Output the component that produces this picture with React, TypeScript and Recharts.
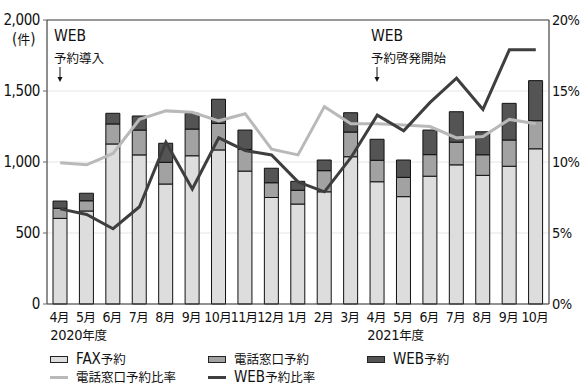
import React from "react";
import {
  Bar,
  CartesianGrid,
  ComposedChart,
  Line,
  ReferenceLine,
  XAxis,
  YAxis,
} from "recharts";

// monthly reservations by channel, FY2020 April .. FY2021 October
const months = ["4月", "5月", "6月", "7月", "8月", "9月", "10月", "11月", "12月", "1月", "2月", "3月", "4月", "5月", "6月", "7月", "8月", "9月", "10月"];
const faxCounts = [603, 655, 1127, 1050, 845, 1044, 1085, 936, 750, 704, 790, 1037, 861, 756, 900, 980, 906, 970, 1093];
const phoneCounts = [71, 72, 141, 175, 153, 188, 187, 153, 104, 97, 149, 174, 151, 136, 152, 160, 145, 185, 198];
const webCounts = [51, 53, 75, 99, 134, 111, 170, 136, 102, 63, 75, 136, 148, 122, 173, 214, 162, 258, 282];
const phoneRate = [9.95, 9.8, 10.6, 13.0, 13.6, 13.5, 12.9, 13.4, 10.9, 10.5, 13.9, 12.7, 12.7, 12.6, 12.5, 11.7, 11.8, 13.0, 12.7];
const webRate = [6.7, 6.3, 5.3, 6.85, 11.4, 8.1, 11.7, 10.8, 10.5, 8.6, 7.9, 10.3, 13.3, 12.2, 14.2, 15.9, 13.7, 17.9, 17.9];
const fiscalYears = [
  { index: 0, label: "2020年度" },
  { index: 12, label: "2021年度" },
];
const countTicks = [0, 500, 1000, 1500, 2000];
const rateTicks = [0, 5, 10, 15, 20];
const edgeTicks = [1, 2, 3, 4, 5, 6, 7, 8, 9, 10, 11, 12, 13, 14, 15, 16, 17, 18];

const rows = months.map((m, i) => ({
  slot: i,
  fax: faxCounts[i],
  phone: phoneCounts[i],
  web: webCounts[i],
  phoneRate: phoneRate[i],
  webRate: webRate[i],
}));

const LAT = "'Liberation Sans Narrow', 'Arial Narrow', 'DejaVu Sans Condensed', sans-serif";
const JP = "'Noto Sans CJK JP', sans-serif";
const CJK = /([\u3000-\u30ff\u3400-\u9fff\uff00-\uffef]+)/;

const FAX_FILL = "#dcdddc";
const PHONE_FILL = "#a2a2a2";
const WEB_FILL = "#545454";
const PHONE_LINE = "#b9b9b9";
const WEB_LINE = "#3e3e3e";

function split(text: string) {
  return text.split(CJK).filter(Boolean).map((s) => ({ s, cjk: CJK.test(s) }));
}

function SvgText({ text, latSize = 15, jpSize = 12.5 }: { text: string; latSize?: number; jpSize?: number }) {
  return (
    <>
      {split(text).map((r, i) => (
        <tspan key={i} fontFamily={r.cjk ? JP : LAT} fontSize={r.cjk ? jpSize : latSize}>
          {r.s}
        </tspan>
      ))}
    </>
  );
}

function HtmlText({ text, latSize = 15, jpSize = 12.5 }: { text: string; latSize?: number; jpSize?: number }) {
  return (
    <>
      {split(text).map((r, i) => (
        <span key={i} style={{ fontFamily: r.cjk ? JP : LAT, fontSize: r.cjk ? jpSize : latSize }}>
          {r.s}
        </span>
      ))}
    </>
  );
}

function MonthTick(props: any) {
  const { x, y, payload } = props;
  const idx = Number(payload.value);
  const year = fiscalYears.find((f) => f.index === idx);
  return (
    <g>
      <text x={x - 1} y={y} dy={18} textAnchor="middle" fill="#111" letterSpacing={-0.6}>
        <SvgText text={months[idx]} latSize={14} jpSize={12.5} />
      </text>
      {year && (
        <text x={x - 10} y={y} dy={36} textAnchor="start" fill="#111" letterSpacing={-0.3}>
          <SvgText text={year.label} latSize={14.5} jpSize={12.5} />
        </text>
      )}
    </g>
  );
}

function Note({ left, lines }: { left: number; lines: string[] }) {
  return (
    <div style={{ position: "absolute", left, top: 25, color: "#111", lineHeight: "21px", whiteSpace: "nowrap" }}>
      {lines.map((l) => (
        <div key={l}>
          <HtmlText text={l} latSize={15.5} />
        </div>
      ))}
      <svg width={10} height={16} style={{ position: "absolute", left: 1, top: 42 }}>
        <line x1={5} y1={0} x2={5} y2={11} stroke="#111" strokeWidth={1} />
        <polygon points="2.5,10 7.5,10 5,15" fill="#111" />
      </svg>
    </div>
  );
}

function SwatchBox({ fill }: { fill: string }) {
  return (
    <span
      style={{
        display: "inline-block",
        width: 18,
        height: 7,
        boxSizing: "border-box",
        border: "1px solid #222",
        background: fill,
      }}
    />
  );
}

function SwatchLine({ stroke }: { stroke: string }) {
  return <span style={{ display: "inline-block", width: 18, height: 3, background: stroke }} />;
}

function LegendItem({ left, top, swatch, label }: { left: number; top: number; swatch: React.ReactNode; label: string }) {
  return (
    <div
      style={{
        position: "absolute",
        left,
        top,
        height: 16,
        lineHeight: "16px",
        display: "flex",
        alignItems: "center",
        color: "#111",
        whiteSpace: "nowrap",
      }}
    >
      <span style={{ width: 26, display: "flex", alignItems: "center" }}>{swatch}</span>
      <HtmlText text={label} latSize={15} jpSize={12.5} />
    </div>
  );
}

export default function App() {
  return (
    <div style={{ position: "absolute", left: 0, top: 0, width: 581, height: 386, background: "#fff", overflow: "hidden" }}>
      <ComposedChart
        width={581}
        height={386}
        data={rows}
        margin={{ top: 20, right: 0, bottom: 52, left: 7 }}
        barSize={14}
      >
        <CartesianGrid yAxisId="cnt" horizontal vertical={false} stroke="#e6e6e6" />
        <XAxis
          xAxisId="cat"
          dataKey="slot"
          type="category"
          interval={0}
          tickLine={false}
          tickSize={0}
          tickMargin={0}
          height={30}
          axisLine={{ stroke: "#333", strokeWidth: 1.2 }}
          tick={<MonthTick />}
        />
        <XAxis
          xAxisId="edge"
          type="number"
          domain={[0, 19]}
          allowDataOverflow
          ticks={edgeTicks}
          mirror
          tick={false}
          axisLine={false}
          tickSize={4}
          tickLine={{ stroke: "#333" }}
        />
        <YAxis
          yAxisId="cnt"
          width={40}
          domain={[0, 2000]}
          ticks={countTicks}
          tickSize={4}
          tickMargin={3}
          axisLine={{ stroke: "#444", strokeWidth: 1.2 }}
          tickLine={{ stroke: "#666" }}
          tick={{ fill: "#111", fontSize: 15, fontFamily: LAT, letterSpacing: -0.4 }}
          tickFormatter={(v: number) => v.toLocaleString("en-US")}
        />
        <YAxis
          yAxisId="pct"
          orientation="right"
          width={32}
          domain={[0, 20]}
          ticks={rateTicks}
          tickSize={0}
          tickMargin={3}
          tickLine={false}
          axisLine={{ stroke: "#444", strokeWidth: 1.2 }}
          tick={{ fill: "#111", fontSize: 14.5, fontFamily: LAT, textAnchor: "start", letterSpacing: -0.6 }}
          tickFormatter={(v: number) => `${v}%`}
        />
        <ReferenceLine yAxisId="cnt" xAxisId="cat" y={2000} stroke="#7a7a7a" strokeWidth={1.5} />
        <Bar xAxisId="cat" yAxisId="cnt" dataKey="fax" stackId="r" fill={FAX_FILL} stroke="#111" strokeWidth={1} isAnimationActive={false} />
        <Bar xAxisId="cat" yAxisId="cnt" dataKey="phone" stackId="r" fill={PHONE_FILL} stroke="#111" strokeWidth={1} isAnimationActive={false} />
        <Bar xAxisId="cat" yAxisId="cnt" dataKey="web" stackId="r" fill={WEB_FILL} stroke="#111" strokeWidth={1} isAnimationActive={false} />
        <Line xAxisId="cat" yAxisId="pct" dataKey="phoneRate" stroke={PHONE_LINE} strokeWidth={3} dot={false} isAnimationActive={false} />
        <Line xAxisId="cat" yAxisId="pct" dataKey="webRate" stroke={WEB_LINE} strokeWidth={3} dot={false} isAnimationActive={false} />
      </ComposedChart>

      <div style={{ position: "absolute", left: 12, top: 29, color: "#111" }}>
        <HtmlText text="(件)" latSize={15} jpSize={13} />
      </div>

      <Note left={54} lines={["WEB", "予約導入"]} />
      <Note left={371} lines={["WEB", "予約啓発開始"]} />

      <LegendItem left={50} top={351} swatch={<SwatchBox fill={FAX_FILL} />} label="FAX予約" />
      <LegendItem left={208} top={351} swatch={<SwatchBox fill={PHONE_FILL} />} label="電話窓口予約" />
      <LegendItem left={367} top={351} swatch={<SwatchBox fill={WEB_FILL} />} label="WEB予約" />
      <LegendItem left={50} top={369} swatch={<SwatchLine stroke={PHONE_LINE} />} label="電話窓口予約比率" />
      <LegendItem left={208} top={369} swatch={<SwatchLine stroke={WEB_LINE} />} label="WEB予約比率" />
    </div>
  );
}
